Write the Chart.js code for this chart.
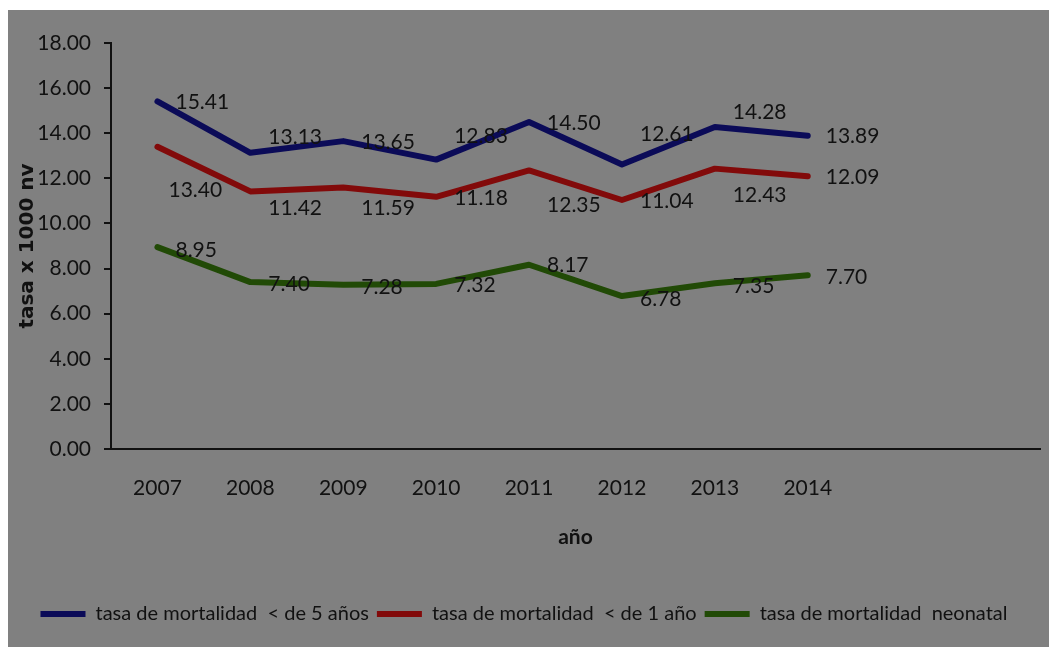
<!DOCTYPE html>
<html>
<head>
<meta charset="utf-8">
<script src="https://cdn.jsdelivr.net/npm/chart.js@4"></script>
<style>
  body { margin: 0; background: #fff; }
  #wrap { position: absolute; left: 8px; top: 10px; width: 1041px; height: 637px; background: #808080; }
</style>
</head>
<body>
<div id="wrap"><canvas id="mortChart" width="1041" height="637"></canvas></div>
<script>
// categories (Excel axis has two empty slots at the end)
const years = ["2007", "2008", "2009", "2010", "2011", "2012", "2013", "2014", "", ""];

// tasa x 1000 nv
const under5 = [15.41, 13.13, 13.65, 12.83, 14.50, 12.61, 14.28, 13.89, null, null];
const under1 = [13.40, 11.42, 11.59, 11.18, 12.35, 11.04, 12.43, 12.09, null, null];
const neonatal = [8.95, 7.40, 7.28, 7.32, 8.17, 6.78, 7.35, 7.70, null, null];

const seriesNames = [
  "tasa de mortalidad  < de 5 años",
  "tasa de mortalidad  < de 1 año",
  "tasa de mortalidad  neonatal"
];

// label nudges (px) relative to the point, like the hand-moved Excel labels
const labelShiftY = [
  [0, -17, 0, -24, 0, -31, -16, 0],
  [42, 16, 20, 0, 34, 0, 26, 0],
  [2, 1, 1, 0, 0, 2, 2, 1]
];
const labelShiftX = [
  [0, 0, 0, 0, 0, 0, 0, 0],
  [-7, 0, 0, 0, 0, 0, 0, 0],
  [0, 0, 0, 0, 0, 0, 0, 0]
];

const FONT = "Lato, 'Liberation Sans', sans-serif";
const INK = "#111";

// draws the value next to each point
const valueLabels = {
  id: "valueLabels",
  afterDatasetsDraw(chart) {
    const ctx = chart.ctx;
    ctx.save();
    ctx.font = "21px " + FONT;
    ctx.fillStyle = INK;
    ctx.textAlign = "left";
    ctx.textBaseline = "middle";
    chart.data.datasets.forEach((ds, i) => {
      const meta = chart.getDatasetMeta(i);
      meta.data.forEach((pt, j) => {
        const v = ds.data[j];
        if (v == null) return;
        ctx.fillText(v.toFixed(2), pt.x + 18 + labelShiftX[i][j], pt.y + 1 + labelShiftY[i][j]);
      });
    });
    ctx.restore();
  }
};

const colors = ["#0b0b58", "#820a0a", "#214a06"];
const values = [under5, under1, neonatal];

const ctx = document.getElementById("mortChart").getContext("2d");
const chart = new Chart(ctx, {
  type: "line",
  data: {
    labels: years,
    datasets: values.map((d, i) => ({
      label: seriesNames[i],
      data: d,
      borderColor: colors[i],
      backgroundColor: colors[i],
      borderWidth: 6,
      borderJoinStyle: "round",
      borderCapStyle: "round",
      pointRadius: 0,
      pointStyle: "line",
      tension: 0,
      spanGaps: false
    }))
  },
  options: {
    responsive: false,
    animation: false,
    layout: { padding: { left: 0, right: 9, top: 33, bottom: 13 } },
    plugins: {
      tooltip: { enabled: false },
      legend: {
        position: "bottom",
        labels: {
          usePointStyle: true,
          pointStyleWidth: 45,
          color: INK,
          font: { family: FONT, size: 20 },
          padding: 8
        }
      }
    },
    scales: {
      x: {
        offset: true,
        grid: { display: true, drawOnChartArea: false, drawTicks: false },
        border: { color: "#111", width: 2 },
        ticks: { color: INK, font: { family: FONT, size: 21 }, padding: 27, maxRotation: 0, autoSkip: false },
        title: {
          display: true,
          text: "año",
          color: INK,
          font: { family: FONT, size: 21, weight: "bold" },
          padding: { top: 0, bottom: 46 }
        },
        afterFit(scale) { scale.height = 147; }
      },
      y: {
        min: 0,
        max: 18,
        grid: { drawOnChartArea: false, drawTicks: true, tickLength: 7, color: "#111", lineWidth: 2 },
        border: { color: "#111", width: 2 },
        ticks: {
          stepSize: 2,
          color: INK,
          padding: 13,
          font: { family: FONT, size: 21 },
          callback: v => v.toFixed(2)
        },
        title: {
          display: true,
          text: "tasa x 1000 nv",
          color: INK,
          font: { family: "'DejaVu Sans', sans-serif", size: 20, weight: "bold" },
          padding: { top: 8, bottom: 0 }
        },
        afterFit(scale) { scale.width = 103; }
      }
    }
  },
  plugins: [valueLabels]
});
</script>
</body>
</html>
